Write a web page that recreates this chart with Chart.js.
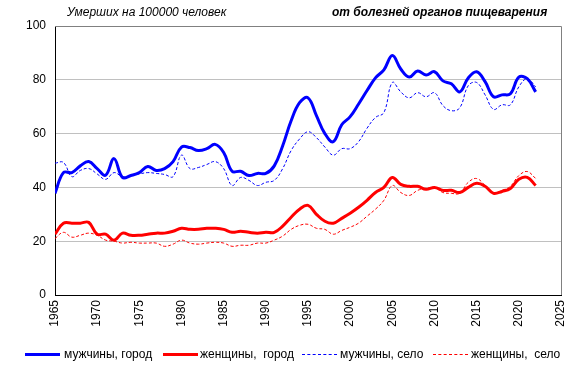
<!DOCTYPE html>
<html lang="ru">
<head>
<meta charset="UTF-8">
<title>Умершие от болезней органов пищеварения</title>
<script src="https://cdn.jsdelivr.net/npm/chart.js@4"></script>
<style>
    html, body {
        margin: 0;
        padding: 0;
        background: #ffffff;
    }
    #wrap {
        position: relative;
        width: 581px;
        height: 372px;
        font-family: "Liberation Sans", Arial, sans-serif;
        font-size: 12px;
        color: #000000;
    }
    #grafico {
        position: absolute;
        left: 0;
        top: 0;
    }
    .titulo {
        position: absolute;
        top: 5px;
        font-style: italic;
        white-space: nowrap;
    }
    .leyenda-linea {
        position: absolute;
        top: 354px;
        width: 35px;
        height: 0;
    }
    .leyenda-texto {
        position: absolute;
        top: 347px;
        white-space: nowrap;
    }
</style>
</head>
<body>
<div id="wrap">
    <canvas id="grafico" width="581" height="372"></canvas>
    <div class="titulo" style="left:67px;">Умерших на 100000 человек</div>
    <div class="titulo" style="left:332px;font-weight:bold;">от болезней органов пищеварения</div>

    <div class="leyenda-linea" style="left:25px;border-top:3px solid #0000ff;top:353px;"></div>
    <div class="leyenda-texto" style="left:64px;">мужчины, город</div>
    <div class="leyenda-linea" style="left:163px;border-top:3px solid #ff0000;top:353px;"></div>
    <div class="leyenda-texto" style="left:200px;">женщины,&nbsp; город</div>
    <div class="leyenda-linea" style="left:302px;border-top:1px dashed #0000ff;"></div>
    <div class="leyenda-texto" style="left:340px;">мужчины, село</div>
    <div class="leyenda-linea" style="left:433px;border-top:1px dashed #ff0000;"></div>
    <div class="leyenda-texto" style="left:471px;">женщины,&nbsp; село</div>
</div>
<script>
const years = [
    1965, 1966, 1967, 1968, 1969, 1970, 1971, 1972, 1973, 1974,
    1975, 1976, 1977, 1978, 1979, 1980, 1981, 1982, 1983, 1984,
    1985, 1986, 1987, 1988, 1989, 1990, 1991, 1992, 1993, 1994,
    1995, 1996, 1997, 1998, 1999, 2000, 2001, 2002, 2003, 2004,
    2005, 2006, 2007, 2008, 2009, 2010, 2011, 2012, 2013, 2014,
    2015, 2016, 2017, 2018, 2019, 2020, 2021, 2022
];

const menUrban = [
    37.8, 45.5, 45.5, 48, 49.6, 47, 44.5, 50.7, 43.7, 44.4,
    45.5, 47.8, 46.3, 47, 49.6, 55, 54.8, 53.7, 54.4, 56,
    53, 46, 46, 44.4, 45.2, 45.2, 48, 55.5, 64.8, 71.5,
    73.3, 66.7, 60, 57, 63.3, 66.3, 71, 76, 80.7, 83.7,
    89, 84, 81, 83.3, 81.8, 83, 79.6, 78.5, 75.5, 80.7,
    83, 79.3, 73.7, 74.4, 74.8, 81, 80.4, 75.5
];

const womenUrban = [
    22.6, 26.7, 26.7, 26.7, 27, 22.6, 22.6, 20.4, 23, 22.2,
    22.2, 22.6, 23, 23, 23.7, 24.8, 24.4, 24.4, 24.8, 24.8,
    24.4, 23.3, 23.7, 23.3, 23, 23.3, 23.3, 25.6, 28.9, 31.9,
    33.3, 30, 27.4, 26.7, 28.5, 30.4, 32.6, 35.2, 38.1, 40,
    43.7, 41.1, 40.4, 40.4, 39.3, 40, 38.9, 38.9, 38.1, 40,
    41.5, 40.4, 37.8, 38.5, 39.6, 43, 43.7, 40.7
];

const menRural = [
    49, 49.3, 44, 46.3, 47, 45, 43, 45.5, 44, 44.4,
    45, 45.5, 45.2, 44.8, 44, 52, 47, 47.4, 48.5, 49.6,
    47, 40.7, 43.7, 42.6, 40.7, 41.9, 42.6, 47, 53.7, 58,
    60.7, 58.5, 55, 52, 54.4, 54.4, 57, 62, 66, 67.8,
    79, 75.5, 73.3, 75.2, 73.7, 75.2, 70.4, 68.5, 69.6, 77.8,
    79, 74.4, 69, 70.7, 70.7, 77.4, 80.4, 77.4
];

const womenRural = [
    21, 23.3, 21.5, 22.2, 23, 22.2, 20.4, 20, 19.3, 19.6,
    19.3, 19.3, 19.3, 18.1, 18.9, 20.4, 19.3, 18.9, 19.3, 19.6,
    19.3, 18.1, 18.5, 18.5, 19.3, 19.3, 20.4, 21.9, 24.4, 25.9,
    26.3, 24.8, 24.4, 22.6, 24, 25.2, 26.7, 29.3, 31.9, 35.2,
    40.7, 38.1, 37, 38.9, 39.6, 40, 38.1, 37.8, 37.8, 41.9,
    43.3, 40.7, 37.8, 38.9, 40.4, 44.4, 45.9, 43.3
];

const yTicks = [0, 20, 40, 60, 80, 100];
const xTicks = [1965, 1970, 1975, 1980, 1985, 1990, 1995, 2000, 2005, 2010, 2015, 2020, 2025];

document.addEventListener('DOMContentLoaded', function () {
    const fuente = { family: '"Liberation Sans", Arial, sans-serif', size: 12 };

    function puntos(valores) {
        return years.map(function (anio, i) {
            return { x: anio, y: valores[i] };
        });
    }

    function serie(valores, color, ancho, guiones) {
        return {
            data: puntos(valores),
            borderColor: color,
            backgroundColor: color,
            borderWidth: ancho,
            borderDash: guiones,
            pointRadius: 0,
            tension: 0.4,
            fill: false
        };
    }

    // marco gris arriba y a la derecha
    const marcoPlugin = {
        id: 'marco',
        afterDraw: function (chart) {
            const a = chart.chartArea;
            const ctx = chart.ctx;
            ctx.save();
            ctx.strokeStyle = '#808080';
            ctx.lineWidth = 1;
            ctx.beginPath();
            ctx.moveTo(a.left, a.top + 0.5);
            ctx.lineTo(a.right + 0.5, a.top + 0.5);
            ctx.lineTo(a.right + 0.5, a.bottom);
            ctx.stroke();
            ctx.restore();
        }
    };

    new Chart(document.getElementById('grafico').getContext('2d'), {
        type: 'line',
        data: {
            datasets: [
                serie(menRural, '#0000ff', 1, [3, 2]),
                serie(womenRural, '#ff0000', 1, [3, 2]),
                serie(menUrban, '#0000ff', 3, []),
                serie(womenUrban, '#ff0000', 3, [])
            ]
        },
        plugins: [marcoPlugin],
        options: {
            responsive: false,
            animation: false,
            layout: {
                padding: { left: 0, top: 26, right: 20, bottom: 37 }
            },
            scales: {
                x: {
                    type: 'linear',
                    min: 1965,
                    max: 2025,
                    afterBuildTicks: function (axis) {
                        axis.ticks = xTicks.map(function (v) { return { value: v }; });
                    },
                    afterFit: function (axis) {
                        axis.height = 40;
                    },
                    grid: { display: false, drawTicks: false },
                    border: { color: '#000000', width: 1 },
                    ticks: {
                        font: fuente,
                        color: '#000000',
                        minRotation: 90,
                        maxRotation: 90,
                        padding: 5,
                        autoSkip: false,
                        callback: function (v) { return String(v); }
                    }
                },
                y: {
                    min: 0,
                    max: 100,
                    afterBuildTicks: function (axis) {
                        axis.ticks = yTicks.map(function (v) { return { value: v }; });
                    },
                    afterFit: function (axis) {
                        axis.width = 55;
                    },
                    grid: { color: '#c0c0c0', drawTicks: false },
                    border: { color: '#000000', width: 1 },
                    ticks: {
                        font: fuente,
                        color: '#000000',
                        padding: 9
                    }
                }
            },
            plugins: {
                legend: { display: false },
                tooltip: { enabled: false }
            }
        }
    });
});
</script>
</body>
</html>
